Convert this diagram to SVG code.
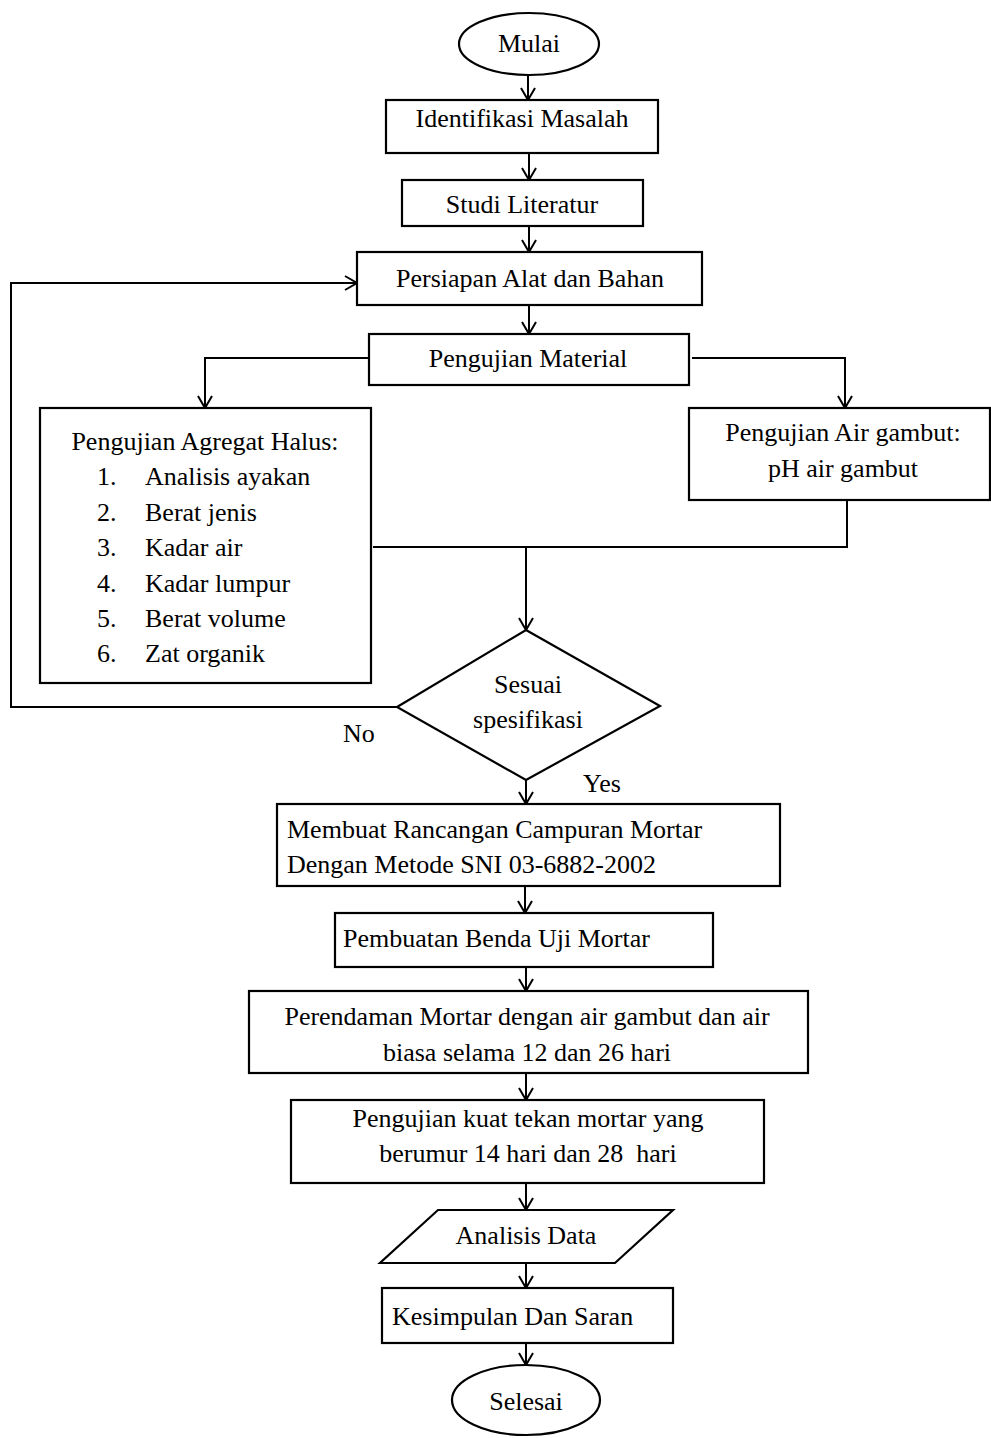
<svg xmlns="http://www.w3.org/2000/svg" width="991" height="1438" viewBox="0 0 991 1438">
<style>
.s{fill:#fff;stroke:#000;stroke-width:2.2}
.t{font-family:"Liberation Serif","Times New Roman",serif;font-size:26px;fill:#000}
.c{text-anchor:middle}
.l{fill:none;stroke:#000;stroke-width:2}
</style>
<defs>
<marker id="a" viewBox="-14 -9 16 18" markerWidth="16" markerHeight="18" refX="0" refY="0" orient="auto" markerUnits="userSpaceOnUse">
<path d="M-12,-7 L0,0 L-12,7" fill="none" stroke="#000" stroke-width="2"/>
</marker>
</defs>
<rect width="991" height="1438" fill="#fff"/>
<g id="connectors">
<line class="l" x1="528" y1="75" x2="528" y2="100" marker-end="url(#a)"/>
<line class="l" x1="529" y1="153" x2="529" y2="180" marker-end="url(#a)"/>
<line class="l" x1="529" y1="226" x2="529" y2="252" marker-end="url(#a)"/>
<line class="l" x1="529" y1="305" x2="529" y2="334" marker-end="url(#a)"/>
<polyline class="l" points="369,358 205,358 205,408" marker-end="url(#a)"/>
<polyline class="l" points="692,358 845,358 845,408" marker-end="url(#a)"/>
<polyline class="l" points="847,500 847,547 373,547"/>
<line class="l" x1="526" y1="547" x2="526" y2="630" marker-end="url(#a)"/>
<polyline class="l" points="397,707 11,707 11,283 357,283" marker-end="url(#a)"/>
<line class="l" x1="526" y1="780" x2="526" y2="804" marker-end="url(#a)"/>
<line class="l" x1="525" y1="886" x2="525" y2="913" marker-end="url(#a)"/>
<line class="l" x1="526" y1="967" x2="526" y2="991" marker-end="url(#a)"/>
<line class="l" x1="526" y1="1073" x2="526" y2="1100" marker-end="url(#a)"/>
<line class="l" x1="526" y1="1183" x2="526" y2="1210" marker-end="url(#a)"/>
<line class="l" x1="526" y1="1263" x2="526" y2="1288" marker-end="url(#a)"/>
<line class="l" x1="526" y1="1343" x2="526" y2="1365" marker-end="url(#a)"/>
<text class="t" x="343" y="742">No</text>
<text class="t" x="583" y="792">Yes</text>
</g>
<g id="mulai">
<ellipse class="s" cx="529" cy="44" rx="70" ry="31"/>
<text class="t c" x="529" y="52">Mulai</text>
</g>
<g id="identifikasi">
<rect class="s" x="386" y="100" width="272" height="53"/>
<text class="t c" x="522" y="127">Identifikasi Masalah</text>
</g>
<g id="studi">
<rect class="s" x="402" y="180" width="241" height="46"/>
<text class="t c" x="522" y="213">Studi Literatur</text>
</g>
<g id="persiapan">
<rect class="s" x="357" y="252" width="345" height="53"/>
<text class="t c" x="530" y="287">Persiapan Alat dan Bahan</text>
</g>
<g id="material">
<rect class="s" x="369" y="334" width="320" height="51"/>
<text class="t c" x="528" y="367">Pengujian Material</text>
</g>
<g id="agregat">
<rect class="s" x="40" y="408" width="331" height="275"/>
<text class="t c" x="205" y="450">Pengujian Agregat Halus:</text>
<text class="t" x="97" y="485">1.</text><text class="t" x="145" y="485">Analisis ayakan</text>
<text class="t" x="97" y="521">2.</text><text class="t" x="145" y="521">Berat jenis</text>
<text class="t" x="97" y="556">3.</text><text class="t" x="145" y="556">Kadar air</text>
<text class="t" x="97" y="592">4.</text><text class="t" x="145" y="592">Kadar lumpur</text>
<text class="t" x="97" y="627">5.</text><text class="t" x="145" y="627">Berat volume</text>
<text class="t" x="97" y="662">6.</text><text class="t" x="145" y="662">Zat organik</text>
</g>
<g id="airgambut">
<rect class="s" x="689" y="408" width="301" height="92"/>
<text class="t c" x="843" y="441">Pengujian Air gambut:</text>
<text class="t c" x="843" y="477">pH air gambut</text>
</g>
<g id="sesuai">
<polygon class="s" points="526,630 660,706 526,780 397,707"/>
<text class="t c" x="528" y="693">Sesuai</text>
<text class="t c" x="528" y="728">spesifikasi</text>
</g>
<g id="membuat">
<rect class="s" x="277" y="804" width="503" height="82"/>
<text class="t" x="287" y="838">Membuat Rancangan Campuran Mortar</text>
<text class="t" x="287" y="873">Dengan Metode SNI 03-6882-2002</text>
</g>
<g id="pembuatan">
<rect class="s" x="335" y="913" width="378" height="54"/>
<text class="t" x="343" y="947">Pembuatan Benda Uji Mortar</text>
</g>
<g id="perendaman">
<rect class="s" x="249" y="991" width="559" height="82"/>
<text class="t c" x="527" y="1025">Perendaman Mortar dengan air gambut dan air</text>
<text class="t c" x="527" y="1061">biasa selama 12 dan 26 hari</text>
</g>
<g id="pengujiankuat">
<rect class="s" x="291" y="1100" width="473" height="83"/>
<text class="t c" x="528" y="1127">Pengujian kuat tekan mortar yang</text>
<text class="t c" x="528" y="1162" xml:space="preserve">berumur 14 hari dan 28  hari</text>
</g>
<g id="analisis">
<polygon class="s" points="438,1210 673,1210 615,1263 380,1263"/>
<text class="t c" x="526" y="1244">Analisis Data</text>
</g>
<g id="kesimpulan">
<rect class="s" x="382" y="1288" width="291" height="55"/>
<text class="t" x="392" y="1325">Kesimpulan Dan Saran</text>
</g>
<g id="selesai">
<ellipse class="s" cx="526" cy="1400" rx="74" ry="35"/>
<text class="t c" x="526" y="1410">Selesai</text>
</g>
</svg>
